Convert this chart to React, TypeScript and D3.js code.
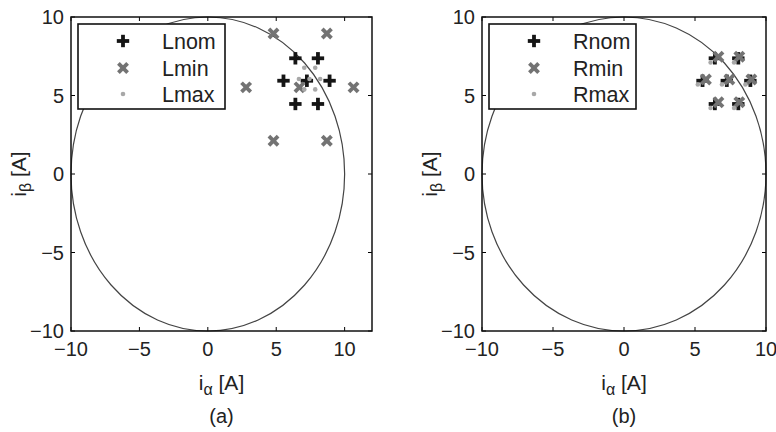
import React from "react";
import * as d3 from "d3";

const ticks = [-10, -5, 0, 5, 10];
const xDomainA: [number, number] = [-10, 12];
const xDomainB: [number, number] = [-10, 10];
const yDomain: [number, number] = [-10, 10];
const circleRadius = 10;

const Lnom: [number, number][] = [
  [6.4, 7.37], [8.05, 7.37], [5.53, 5.94], [7.24, 5.94], [8.9, 5.94], [6.4, 4.46], [8.05, 4.46],
];
const Lmin: [number, number][] = [
  [4.8, 8.95], [8.7, 8.95], [2.8, 5.52], [6.7, 5.52], [10.65, 5.52], [4.8, 2.12], [8.7, 2.12],
];
const Lmax: [number, number][] = [
  [7.05, 6.77], [7.85, 6.77], [6.66, 6.05], [7.43, 6.05], [8.21, 6.05], [7.05, 5.39], [7.85, 5.39],
];
const Rnom: [number, number][] = [
  [6.4, 7.37], [8.05, 7.37], [5.53, 5.94], [7.24, 5.94], [8.9, 5.94], [6.4, 4.46], [8.05, 4.46],
];
const Rmin: [number, number][] = [
  [6.65, 7.47], [8.12, 7.47], [5.77, 6.02], [7.42, 6.02], [8.97, 6.02], [6.65, 4.57], [8.12, 4.57],
];
const Rmax: [number, number][] = [
  [6.1, 7.1], [7.75, 7.1], [5.2, 5.7], [6.9, 5.7], [8.55, 5.7], [6.1, 4.2], [7.75, 4.2],
];

const labelsA = ["Lnom", "Lmin", "Lmax"];
const labelsB = ["Rnom", "Rmin", "Rmax"];
const captions = ["(a)", "(b)"];

const FONT = "'Liberation Sans', Arial, Helvetica, sans-serif";
const NOM_COLOR = "#151515";
const MIN_COLOR = "#737373";
const MAX_COLOR = "#a8a8a8";

const fmt = (v: number) => (v < 0 ? "\u2212" + Math.abs(v) : String(v));

function Plus({ x, y }: { x: number; y: number }) {
  const a = 6.2;
  return (
    <g stroke={NOM_COLOR} strokeWidth={3.8}>
      <line x1={x - a} y1={y} x2={x + a} y2={y} />
      <line x1={x} y1={y - a} x2={x} y2={y + a} />
    </g>
  );
}
function Cross({ x, y }: { x: number; y: number }) {
  const a = 4.6;
  return (
    <g stroke={MIN_COLOR} strokeWidth={3.8}>
      <line x1={x - a} y1={y - a} x2={x + a} y2={y + a} />
      <line x1={x - a} y1={y + a} x2={x + a} y2={y - a} />
    </g>
  );
}
function Dot({ x, y }: { x: number; y: number }) {
  return <circle cx={x} cy={y} r={2.3} fill={MAX_COLOR} />;
}

function Panel({
  x0, x1, xDomain, nom, min, max, labels, caption, legendLeft,
}: {
  x0: number; x1: number; xDomain: [number, number];
  nom: [number, number][]; min: [number, number][]; max: [number, number][];
  labels: string[]; caption: string; legendLeft: number;
}) {
  const top = 17, bottom = 331;
  const x = d3.scaleLinear().domain(xDomain).range([x0, x1]);
  const y = d3.scaleLinear().domain(yDomain).range([bottom, top]);
  const tl = 4;
  const cx = (x0 + x1) / 2;
  const legendTop = 24, legendW = 147, legendH = 85;
  const rows = [41, 68, 94];
  const mx = legendLeft + 45;
  const tx = legendLeft + 84;
  return (
    <g fontFamily={FONT}>
      <ellipse
        cx={x(0)} cy={y(0)}
        rx={x(circleRadius) - x(0)} ry={y(0) - y(circleRadius)}
        fill="none" stroke="#444" strokeWidth={1.2}
      />
      {nom.map((d, i) => <Plus key={"n" + i} x={x(d[0])} y={y(d[1])} />)}
      {min.map((d, i) => <Cross key={"m" + i} x={x(d[0])} y={y(d[1])} />)}
      {max.map((d, i) => <Dot key={"x" + i} x={x(d[0])} y={y(d[1])} />)}
      {ticks.filter(t => t >= xDomain[0] && t <= xDomain[1]).map(t => (
        <g key={"xt" + t}>
          <line x1={x(t)} x2={x(t)} y1={bottom} y2={bottom - tl} stroke="#000" strokeWidth={1} />
          <line x1={x(t)} x2={x(t)} y1={top} y2={top + tl} stroke="#000" strokeWidth={1} />
          <text x={x(t)} y={bottom + 25} fontSize={20} textAnchor="middle" fill="#222">{fmt(t)}</text>
        </g>
      ))}
      {ticks.map(t => (
        <g key={"yt" + t}>
          <line x1={x0} x2={x0 + tl} y1={y(t)} y2={y(t)} stroke="#000" strokeWidth={1} />
          <line x1={x1} x2={x1 - tl} y1={y(t)} y2={y(t)} stroke="#000" strokeWidth={1} />
          <text x={x0 - 7} y={y(t) + 7} fontSize={20} textAnchor="end" fill="#222">{fmt(t)}</text>
        </g>
      ))}
      <rect x={x0} y={top} width={x1 - x0} height={bottom - top} fill="none" stroke="#111" strokeWidth={1.5} />
      <rect x={legendLeft} y={legendTop} width={legendW} height={legendH} fill="#fff" stroke="#111" strokeWidth={1.6} />
      <Plus x={mx} y={rows[0]} />
      <Cross x={mx} y={rows[1]} />
      <Dot x={mx} y={rows[2]} />
      {labels.map((l, i) => (
        <text key={l} x={tx} y={rows[i] + 7.5} fontSize={21.5} fill="#222">{l}</text>
      ))}
      <text x={cx} y={390} fontSize={21} textAnchor="middle" fill="#222">
        i<tspan fontSize={16} dy={5}>α</tspan><tspan dy={-5}> [A]</tspan>
      </text>
      <text transform={`translate(${x0 - 45},174) rotate(-90)`} fontSize={21} textAnchor="middle" fill="#222">
        i<tspan fontSize={16} dy={5}>β</tspan><tspan dy={-5}> [A]</tspan>
      </text>
      <text x={cx} y={423} fontSize={20} textAnchor="middle" fill="#222">{caption}</text>
    </g>
  );
}

export default function App() {
  return (
    <svg width={776} height={432} style={{ position: "absolute", left: 0, top: 0, background: "#fff" }}>
      <rect width={776} height={432} fill="#fff" />
      <Panel x0={71} x1={372} xDomain={xDomainA} nom={Lnom} min={Lmin} max={Lmax}
        labels={labelsA} caption={captions[0]} legendLeft={78} />
      <Panel x0={482} x1={766} xDomain={xDomainB} nom={Rnom} min={Rmin} max={Rmax}
        labels={labelsB} caption={captions[1]} legendLeft={489} />
    </svg>
  );
}
